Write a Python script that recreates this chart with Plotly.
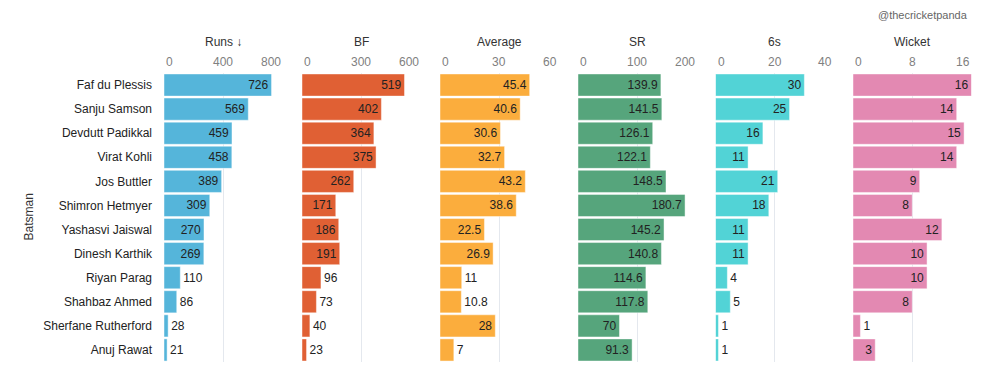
import plotly.graph_objects as go

batsmen = ["Faf du Plessis", "Sanju Samson", "Devdutt Padikkal", "Virat Kohli", "Jos Buttler",
           "Shimron Hetmyer", "Yashasvi Jaiswal", "Dinesh Karthik", "Riyan Parag", "Shahbaz Ahmed",
           "Sherfane Rutherford", "Anuj Rawat"]
runs = [726, 569, 459, 458, 389, 309, 270, 269, 110, 86, 28, 21]
balls_faced = [519, 402, 364, 375, 262, 171, 186, 191, 96, 73, 40, 23]
average = [45.4, 40.6, 30.6, 32.7, 43.2, 38.6, 22.5, 26.9, 11, 10.8, 28, 7]
strike_rate = [139.9, 141.5, 126.1, 122.1, 148.5, 180.7, 145.2, 140.8, 114.6, 117.8, 70, 91.3]
sixes = [30, 25, 16, 11, 21, 18, 11, 11, 4, 5, 1, 1]
wickets = [16, 14, 15, 14, 9, 8, 12, 10, 10, 8, 1, 3]

titles = ["Runs \u2193", "BF", "Average", "SR", "6s", "Wicket"]
series = [runs, balls_faced, average, strike_rate, sixes, wickets]
axis_max = [800, 600, 60, 200, 40, 16]
colors = ["#55b5da", "#e06034", "#fbad3d", "#56a57c", "#52d3d6", "#e389b2"]

W, H = 991, 383
panel_starts = [164, 302, 440, 578, 715.5, 853]
panel_w = 118.5
y_top_px, y_bot_px = 73, 362
ydom = [1 - y_bot_px / H, 1 - y_top_px / H]

fig = go.Figure()
font_family = "Liberation Sans, Arial, sans-serif"

for i, (title, vals, mx, col) in enumerate(zip(titles, series, axis_max, colors)):
    ax = "" if i == 0 else str(i + 1)
    texts = [f"{v:g}" for v in vals]
    positions = []
    for v, t in zip(vals, texts):
        bar_px = v / mx * panel_w
        text_px = len(t.replace(".", "")) * 6.5 + (3 if "." in t else 0)
        positions.append("inside" if bar_px >= text_px + 12 else "outside")
    fig.add_trace(go.Bar(
        x=vals, y=batsmen, orientation="h",
        marker=dict(color=col, line=dict(color="rgba(255,255,255,0.45)", width=1)),
        text=texts, textposition=positions, insidetextanchor="end",
        constraintext="none", cliponaxis=False,
        textfont=dict(color="#222222", size=12, family=font_family),
        xaxis="x" + ax, yaxis="y" + ax, showlegend=False, hoverinfo="skip",
    ))
    x0 = panel_starts[i] / W
    x1 = (panel_starts[i] + panel_w) / W
    fig.update_layout(**{
        "xaxis" + ax: dict(domain=[x0, x1], range=[0, mx], showgrid=True,
                           gridcolor="#e4e8ee", gridwidth=1,
                           tickvals=[mx / 2, mx], showticklabels=False,
                           zeroline=False, showline=False, anchor="y" + ax, fixedrange=True),
        "yaxis" + ax: dict(domain=ydom, type="category", autorange="reversed",
                           showticklabels=(i == 0), anchor="x" + ax,
                           showgrid=False, zeroline=False, showline=False,
                           matches=None if i == 0 else "y", fixedrange=True,
                           ticks="", ticklabelstandoff=11,
                           tickfont=dict(size=12, color="#222222", family=font_family)),
    })
    xref = "x" + ax
    # tick labels
    for val, anchor in [(0, "left"), (mx / 2, "center"), (mx, "right")]:
        fig.add_annotation(x=val, y=1 - 62 / H, xref=xref, yref="paper", text=f"{val:g}",
                           showarrow=False, xanchor=anchor, yanchor="middle",
                           font=dict(size=12, color="#808080", family=font_family))
    # header
    fig.add_annotation(x=mx / 2, y=1 - 42 / H, xref=xref, yref="paper", text=title,
                       showarrow=False, xanchor="center", yanchor="middle",
                       font=dict(size=12, color="#333333", family=font_family))

fig.add_annotation(x=970 / W, y=1 - 15 / H, xref="paper", yref="paper", text="@thecricketpanda",
                   showarrow=False, xanchor="right", yanchor="middle",
                   font=dict(size=11, color="#666666", family=font_family))
fig.add_annotation(x=29 / W, y=(ydom[0] + ydom[1]) / 2, xref="paper", yref="paper", text="Batsman",
                   showarrow=False, textangle=-90, xanchor="center", yanchor="middle",
                   font=dict(size=12, color="#333333", family=font_family))

fig.update_layout(width=W, height=H, margin=dict(l=0, r=0, t=0, b=0),
                  paper_bgcolor="white", plot_bgcolor="white", bargap=0.08,
                  font=dict(family=font_family))

fig.write_html("out.html", config={"displayModeBar": False},
               post_script="document.body.style.margin='0';")
